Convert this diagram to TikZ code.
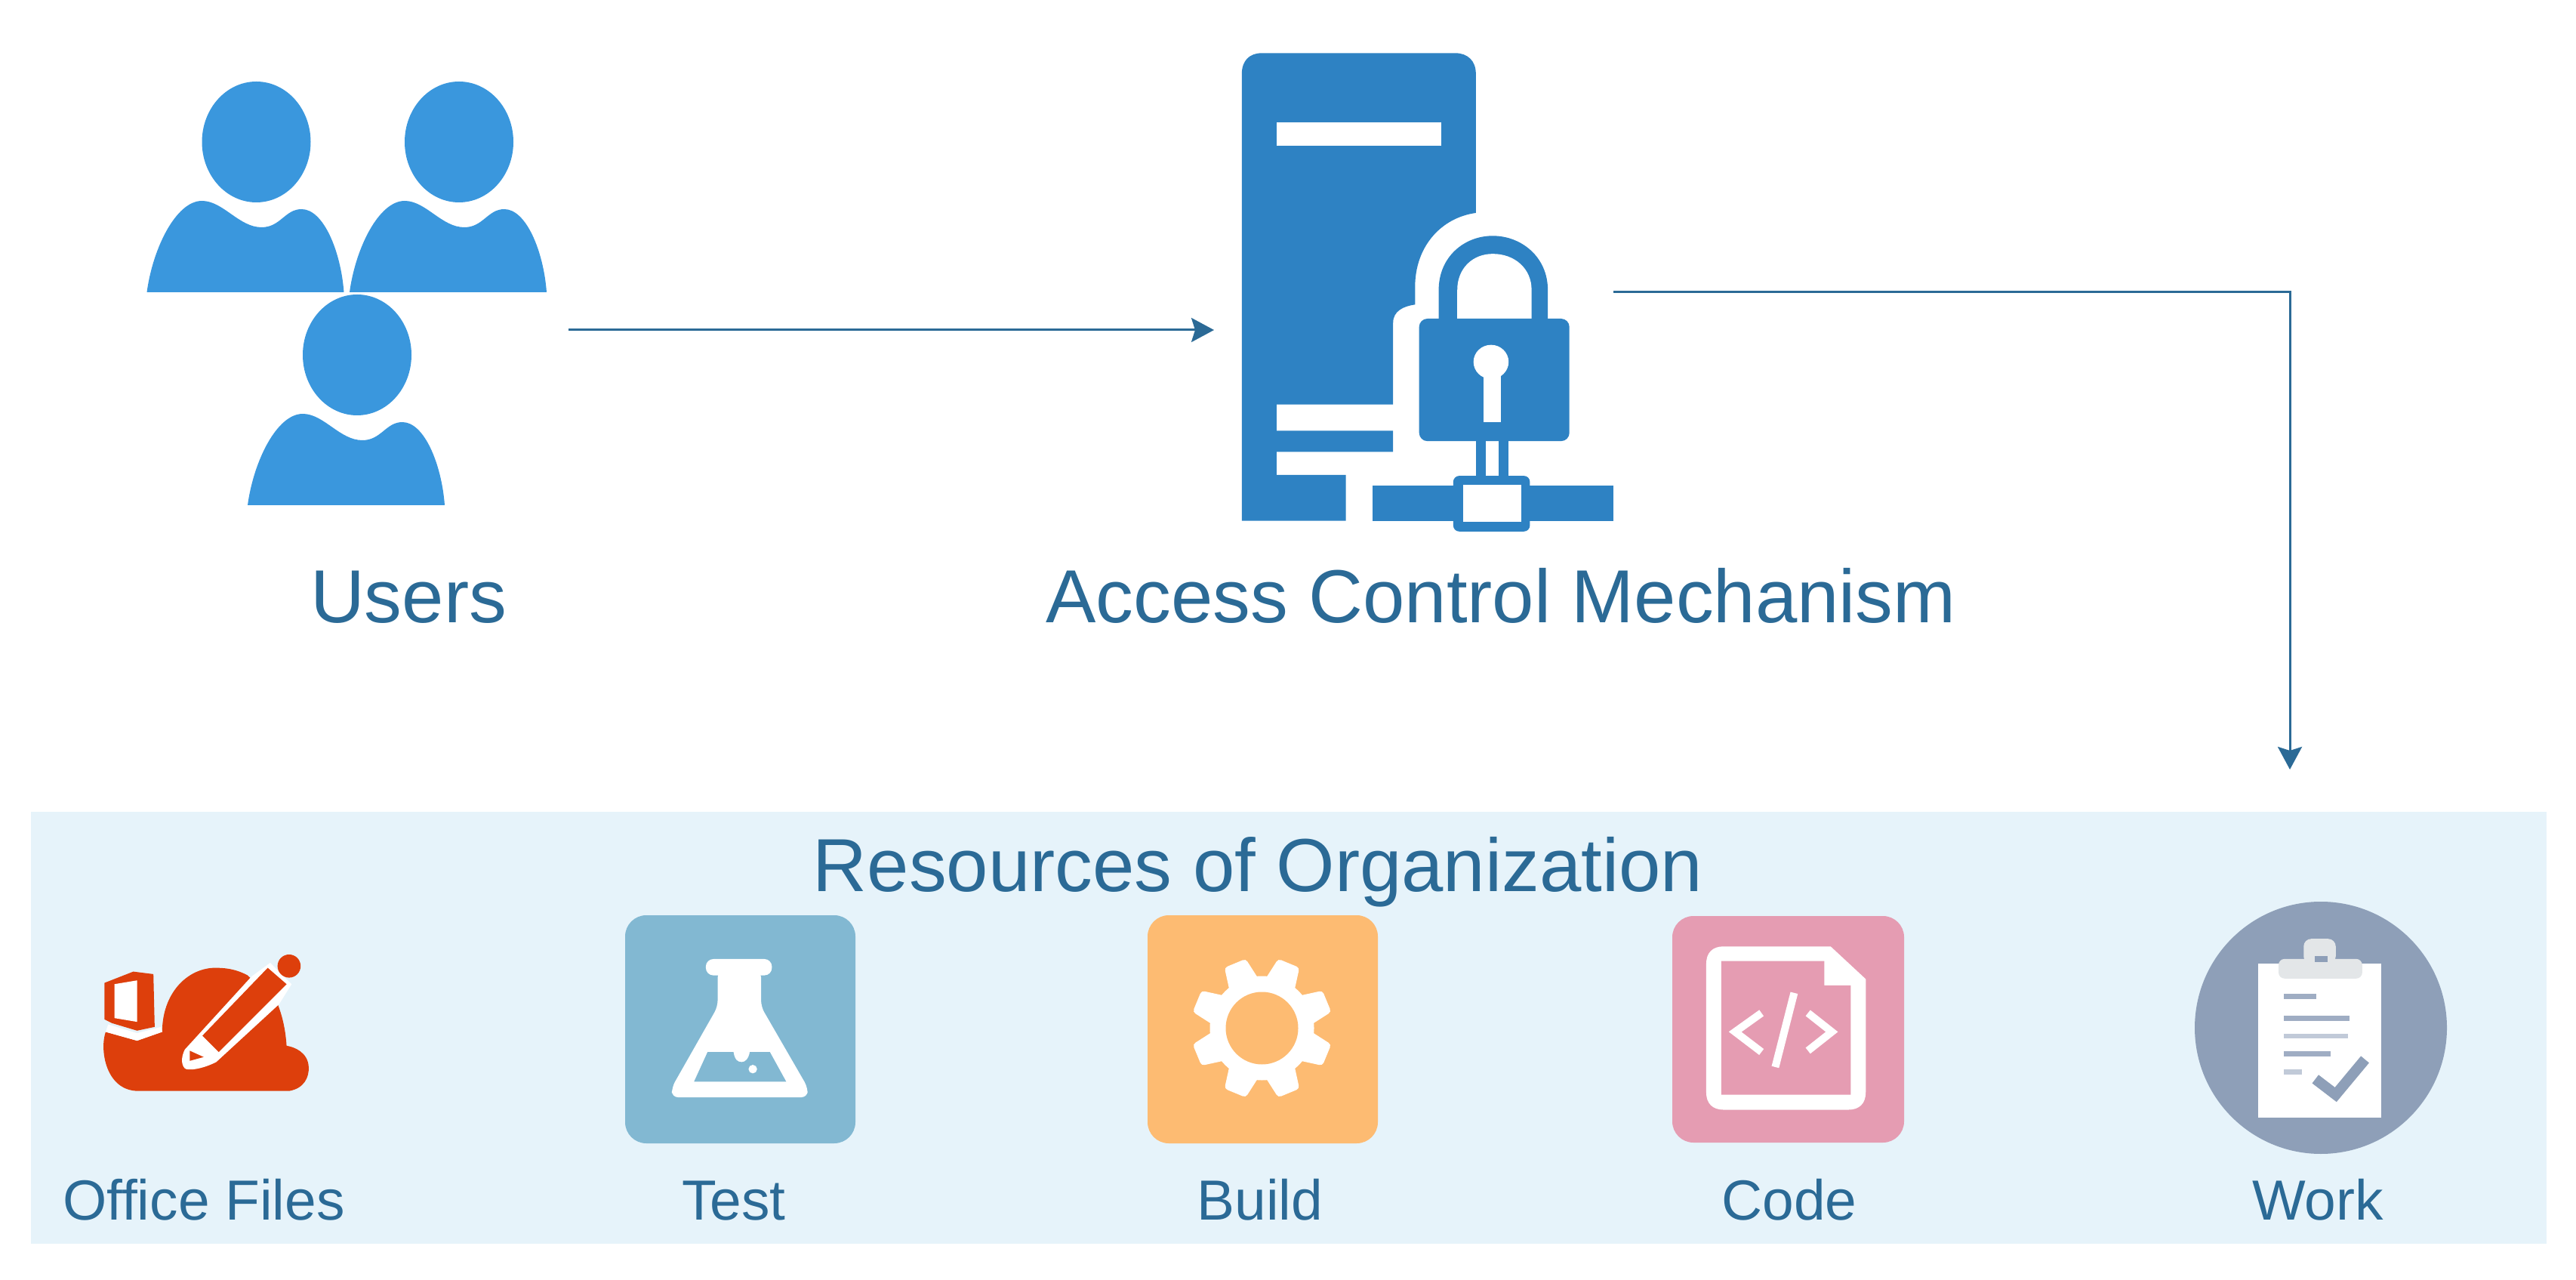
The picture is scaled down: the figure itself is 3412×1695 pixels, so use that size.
\documentclass[tikz,border=0pt]{standalone}
\usepackage{fontspec}
\setmainfont{Liberation Sans}
\usetikzlibrary{arrows.meta,positioning}
\definecolor{usersblue}{HTML}{3A97DD}
\definecolor{serverblue}{HTML}{2E82C3}
\definecolor{inkblue}{HTML}{2B6A96}
\definecolor{panelblue}{HTML}{E6F3FA}
\definecolor{officered}{HTML}{DD3F0C}
\definecolor{testblue}{HTML}{82B8D2}
\definecolor{buildorange}{HTML}{FDBB72}
\definecolor{codepink}{HTML}{E59CB2}
\definecolor{workgrey}{HTML}{8E9FB8}
\definecolor{clipgrey}{HTML}{E3E6E8}
\tikzset{
  bigtext/.style={text=inkblue,anchor=base,inner sep=0pt,font=\fontsize{28.3}{30}\selectfont},
  smalltext/.style={text=inkblue,anchor=base,inner sep=0pt,font=\fontsize{21.3}{24}\selectfont},
  flow/.style={draw=inkblue,line width=0.03cm,-{Stealth[length=3mm,width=3.2mm,inset=0.5mm]}},
  tile/.style={rounded corners=0.28cm},
  person/.pic={
    \fill[usersblue] (0,0) ellipse [x radius=72,y radius=80];
    \fill[usersblue] (-145,199) .. controls (-137,140) and (-106,78) .. (-72,78)
      .. controls (-44,78) and (-23,113) .. (7,113)
      .. controls (32,113) and (38,89) .. (60,89)
      .. controls (89,89) and (112,145) .. (116,199) -- cycle;
  }
}
\begin{document}
\begin{tikzpicture}[x=0.01cm,y=-0.01cm]
  \useasboundingbox (0,0) rectangle (3412,1695);

  \fill[panelblue] (41,1075) rectangle (3373,1647);

  \pic at (339.5,188) {person};
  \pic at (608,188) {person};
  \pic at (473,470) {person};

  \begin{scope}[shift={(1550,50)},x=0.004464cm,y=-0.004337cm]
    \fill[serverblue] (212,110) .. controls (212,70) and (235,47) .. (270,47) -- (845,47)
      .. controls (880,47) and (905,70) .. (905,110) -- (905,535)
      .. controls (800,550) and (725,640) .. (725,760) -- (725,815)
      .. controls (690,820) and (660,835) .. (660,870) -- (660,1120) -- (315,1120)
      -- (315,1200) -- (660,1200) -- (660,1265) -- (315,1265) -- (315,1335)
      -- (520,1335) -- (520,1475) -- (212,1475) -- cycle;
    \fill[white] (315,258) rectangle (803,330);
    \fill[serverblue] (795,870) -- (795,770) .. controls (795,670) and (870,605) .. (955,605)
      .. controls (1040,605) and (1118,670) .. (1118,770) -- (1118,870) -- cycle;
    \fill[white] (850,870) -- (850,770) .. controls (850,705) and (895,660) .. (955,660)
      .. controls (1020,660) and (1070,705) .. (1070,770) -- (1070,870) -- cycle;
    \fill[serverblue,rounded corners=0.11cm] (737,858) rectangle (1182,1232);
    \fill[white] (950,990) circle [radius=52];
    \fill[white] (928,1010) rectangle (980,1175);
    \fill[serverblue] (905,1225) rectangle (935,1345);
    \fill[serverblue] (972,1225) rectangle (1002,1345);
    \fill[serverblue] (598,1368) rectangle (1312,1475);
    \fill[serverblue,rounded corners=0.08cm] (838,1338) rectangle (1065,1508);
    \fill[white] (868,1365) rectangle (1040,1478);
  \end{scope}

  \coordinate (usersout) at (753,437);
  \coordinate (serverin) at (1608,437);
  \coordinate (serverout) at (2137,387);
  \coordinate (resourcesin) at (3033,1019);
  \draw[flow] (usersout) -- (serverin);
  \draw[flow] (serverout) -| (resourcesin);

  \node[bigtext] (users) at (541,825) {Users};
  \node[bigtext] (access) at (1988,825) {Access Control Mechanism};
  \node[bigtext] (resources) at (1666,1180) {Resources of Organization};

  \begin{scope}[shift={(120,1250)},x=0.003333cm,y=-0.003333cm]
    \fill[officered] (60,350) .. controls (35,420) and (60,585) .. (190,585) -- (790,585)
      .. controls (850,575) and (870,530) .. (868,490)
      .. controls (865,430) and (810,410) .. (780,405)
      .. controls (775,330) and (760,280) .. (745,240) -- (625,125)
      .. controls (570,95) and (520,95) .. (490,95)
      .. controls (380,100) and (285,200) .. (285,350) -- (185,385) -- cycle;
    \fill[white] (70,320) -- (185,355) -- (280,330) -- (285,350) -- (185,385) -- (60,350) -- cycle;
    \fill[officered] (55,155) -- (170,110) -- (250,120) -- (255,330) -- (185,345) -- (85,315) -- (55,300) -- cycle;
    \fill[white] (95,160) -- (185,145) -- (185,310) -- (95,295) -- cycle;
    \fill[white] (640,130) -- (715,75) -- (800,160) -- (750,240) -- (500,470)
      .. controls (440,500) and (385,505) .. (375,495) .. controls (360,480) and (360,450) .. (375,420) -- cycle;
    \fill[officered] (445,365) -- (705,95) -- (780,160) -- (510,430) -- cycle;
    \fill[officered] (790,88) circle [radius=46];
    \fill[officered] (395,425) -- (450,450) -- (395,465) -- cycle;
  \end{scope}
  \node[smalltext] (officefiles) at (270,1615) {Office Files};

  \fill[testblue,tile] (828,1212) rectangle (1133,1514);
  \begin{scope}[shift={(860,1250)},x=0.003333cm,y=-0.003333cm]
    \fill[white,rounded corners=0.1cm] (225,60) rectangle (488,125);
    \fill[white,rounded corners=0.08cm] (272,110) -- (272,250) -- (90,570) -- (90,610)
      -- (630,610) -- (630,570) -- (445,250) -- (445,110) -- cycle;
    \fill[testblue] (232,430) -- (178,548) -- (545,548) -- (480,430) -- (400,430)
      .. controls (395,460) and (380,470) .. (368,470) .. controls (350,470) and (340,460) .. (335,430) -- cycle;
    \fill[white] (412,498) circle [radius=17];
  \end{scope}
  \node[smalltext] (test) at (972,1615) {Test};

  \fill[buildorange,tile] (1520,1212) rectangle (1825,1514);
  \begin{scope}[shift={(1671.5,1361.5)}]
    \fill[white] (0,0) circle [radius=69];
    \foreach \a in {22.5,67.5,112.5,157.5,202.5,247.5,292.5,337.5}
      \draw[white,fill=white,line width=0.1cm,line join=round,rotate=\a]
        (60,-16) -- (88,-11) -- (88,11) -- (60,16) -- cycle;
    \fill[buildorange] (0,0) circle [radius=48];
  \end{scope}
  \node[smalltext] (build) at (1669,1615) {Build};

  \fill[codepink,tile] (2215,1213) rectangle (2522,1513);
  \begin{scope}[shift={(2200,1200)},x=0.003333cm,y=-0.003333cm]
    \fill[white] (180,230) .. controls (180,185) and (205,160) .. (250,160) -- (675,160) -- (815,290)
      -- (815,740) .. controls (815,785) and (790,810) .. (745,810) -- (250,810)
      .. controls (205,810) and (180,785) .. (180,740) -- cycle;
    \fill[codepink] (240,218) -- (650,218) -- (650,315) -- (755,315) -- (755,750) -- (240,750) -- cycle;
    \draw[white,line width=0.1cm] (400,425) -- (295,500) -- (400,580);
    \draw[white,line width=0.1cm] (530,345) -- (455,640);
    \draw[white,line width=0.1cm] (585,425) -- (680,500) -- (585,575);
  \end{scope}
  \node[smalltext] (code) at (2370,1615) {Code};

  \fill[workgrey] (3074,1361) circle [radius=167];
  \begin{scope}[shift={(2800,1170)},x=0.0037cm,y=-0.003333cm]
    \fill[white] (518,320) rectangle (958,930);
    \fill[clipgrey,rounded corners=0.08cm] (590,300) rectangle (890,378);
    \fill[clipgrey,rounded corners=0.1cm] (680,220) rectangle (795,320);
    \fill[workgrey] (720,288) rectangle (765,312);
    \fill[workgrey!85!white] (608,440) rectangle (725,460);
    \fill[workgrey!85!white] (608,527) rectangle (845,547);
    \fill[workgrey!55!white] (608,597) rectangle (840,617);
    \fill[workgrey!85!white] (608,668) rectangle (778,688);
    \fill[workgrey!55!white] (608,740) rectangle (675,760);
    \draw[workgrey,line width=0.14cm] (722,778) -- (795,840) -- (900,700);
  \end{scope}
  \node[smalltext] (work) at (3070,1615) {Work};
\end{tikzpicture}
\end{document}
